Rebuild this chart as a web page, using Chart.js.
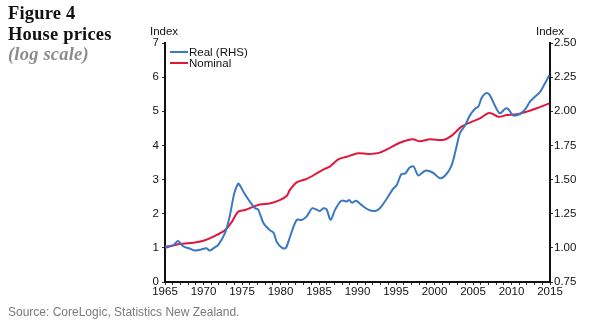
<!DOCTYPE html>
<html>
<head>
<meta charset="utf-8">
<script src="https://cdn.jsdelivr.net/npm/chart.js@4.4.1/dist/chart.umd.min.js"></script>
<style>
  html, body { margin: 0; padding: 0; background: #fff; }
  #wrap { position: relative; width: 600px; height: 323px; overflow: hidden; }
  #chart { position: absolute; left: 0; top: 0; }
  .title { position: absolute; left: 8px; top: 3px; font-family: 'Liberation Serif', 'DejaVu Serif', serif; font-weight: bold; font-size: 18.5px; letter-spacing: 0.2px; line-height: 20.5px; color: #111; }
  .title .sub { color: #8c8c8c; font-style: italic; }
  .source { position: absolute; left: 8px; top: 305px; font-family: 'Liberation Sans', Arial, sans-serif; font-size: 12px; color: #7a7a7a; }
</style>
</head>
<body>
<div id="wrap">
  <canvas id="chart" width="600" height="323"></canvas>
  <div class="title">Figure 4<br>House prices<br><span class="sub">(log scale)</span></div>
  <div class="source">Source: CoreLogic, Statistics New Zealand.</div>
</div>
<script>
// Nominal house price index (left axis)
const nominalYears = [1965, 1966.9, 1968.7, 1970, 1971.3, 1972.8, 1973.7, 1974.5, 1975.4, 1977.3, 1978.6, 1979.9,
    1980.8, 1981.2, 1982.1, 1983.4, 1984.7, 1985.6, 1986.4, 1987.5, 1988.6, 1990.1, 1991.4, 1992.9, 1994.4, 1995.5,
    1997.2, 1998.1, 1999.4, 2001.1, 2002.2, 2003.5, 2004.6, 2005.9, 2006.9, 2007.4, 2008.3, 2009.4, 2010.7, 2012,
    2013.3, 2014.1, 2014.9];
const nominalValues = [1.0, 1.11, 1.15, 1.21, 1.33, 1.52, 1.77, 2.06, 2.11, 2.27, 2.30, 2.40,
    2.52, 2.69, 2.92, 3.02, 3.18, 3.30, 3.38, 3.59, 3.67, 3.77, 3.75, 3.79, 3.95, 4.08,
    4.18, 4.12, 4.18, 4.16, 4.28, 4.55, 4.67, 4.79, 4.94, 4.94, 4.84, 4.89, 4.91, 4.99,
    5.09, 5.16, 5.23];

// Real house price index (right axis)
const realYears = [1965, 1966.1, 1966.7, 1967.4, 1968.2, 1968.9, 1969.8, 1970.4, 1970.8, 1971.5, 1971.9, 1972.8,
    1973.4, 1974.0, 1974.5, 1974.7, 1975.4, 1976.0, 1976.7, 1977.1, 1977.8, 1978.6, 1979.1, 1979.5, 1980.2, 1980.7,
    1981.2, 1982.1, 1982.8, 1983.4, 1984.1, 1984.7, 1985.1, 1985.6, 1986.0, 1986.5, 1987.1, 1987.9, 1988.6, 1988.9,
    1989.3, 1989.8, 1990.5, 1991.4, 1992.3, 1992.9, 1993.8, 1994.6, 1995.1, 1995.7, 1996.2, 1996.8, 1997.3, 1997.9,
    1998.8, 1999.8, 2000.7, 2001.4, 2002.2, 2002.9, 2003.3, 2004.0, 2004.6, 2005.3, 2005.7, 2006.1, 2006.6, 2007.0,
    2007.4, 2007.9, 2008.5, 2009.2, 2009.6, 2010.2, 2011.1, 2011.8, 2012.4, 2013.1, 2013.7, 2014.1, 2014.6, 2014.9];
const realValues = [1.01, 1.02, 1.05, 1.01, 0.995, 0.98, 0.99, 0.997, 0.98, 1.005, 1.02, 1.11,
    1.23, 1.40, 1.47, 1.46, 1.39, 1.34, 1.29, 1.28, 1.18, 1.13, 1.11, 1.045, 1.00, 1.00,
    1.075, 1.205, 1.205, 1.23, 1.29, 1.28, 1.27, 1.29, 1.28, 1.205, 1.28, 1.345, 1.34, 1.35,
    1.33, 1.345, 1.315, 1.28, 1.27, 1.29, 1.36, 1.43, 1.46, 1.54, 1.545, 1.59, 1.595, 1.53,
    1.565, 1.55, 1.51, 1.53, 1.60, 1.75, 1.84, 1.90, 1.97, 2.02, 2.035, 2.095, 2.13, 2.13,
    2.095, 2.035, 1.985, 2.02, 2.015, 1.97, 1.98, 2.015, 2.07, 2.11, 2.14, 2.18, 2.23, 2.265];

const seriesNames = ['Real (RHS)', 'Nominal'];
const seriesColors = ['#3a78c4', '#e0173b'];

const toPoints = (xs, ys) => xs.map((x, i) => ({ x, y: ys[i] }));
const FONT = "'Liberation Sans', Arial, sans-serif";

// legend inside the plot + "Index" labels over each axis
const extrasPlugin = {
    id: 'extras',
    afterDraw(chart) {
        const ctx = chart.ctx;
        const area = chart.chartArea;
        ctx.save();
        ctx.font = `11.5px ${FONT}`;
        ctx.fillStyle = '#111';
        ctx.textBaseline = 'middle';
        ctx.textAlign = 'center';
        ctx.fillText('Index', area.left - 1, 32);
        ctx.fillText('Index', area.right, 32);
        ctx.textAlign = 'left';
        seriesNames.forEach((name, i) => {
            const y = 52 + i * 11;
            ctx.strokeStyle = seriesColors[i];
            ctx.lineWidth = 2;
            ctx.beginPath();
            ctx.moveTo(area.left + 5, y);
            ctx.lineTo(area.left + 23, y);
            ctx.stroke();
            ctx.fillText(name, area.left + 24, y + 0.5);
        });
        ctx.restore();
    }
};

new Chart(document.getElementById('chart').getContext('2d'), {
    type: 'line',
    data: {
        datasets: [{
            label: seriesNames[0],
            data: toPoints(realYears, realValues),
            yAxisID: 'yRight',
            borderColor: seriesColors[0],
            borderWidth: 2,
            pointRadius: 0,
            tension: 0.3
        }, {
            label: seriesNames[1],
            data: toPoints(nominalYears, nominalValues),
            yAxisID: 'yLeft',
            borderColor: seriesColors[1],
            borderWidth: 2,
            pointRadius: 0,
            tension: 0.3
        }]
    },
    options: {
        responsive: false,
        animation: false,
        layout: { padding: { top: 43, left: 0, right: 0, bottom: 0 } },
        plugins: { legend: { display: false }, tooltip: { enabled: false } },
        scales: {
            x: {
                type: 'linear',
                min: 1965,
                max: 2015,
                afterFit: (s) => { s.height = 41; },
                border: { color: '#111', width: 2 },
                grid: { drawOnChartArea: false, tickLength: 3, color: '#333' },
                ticks: {
                    stepSize: 1,
                    autoSkip: false,
                    maxRotation: 0,
                    padding: 0,
                    color: '#111',
                    font: { family: FONT, size: 11.5 },
                    callback: (v) => (v % 5 === 0 ? String(v) : '')
                }
            },
            yLeft: {
                position: 'left',
                min: 0,
                max: 7,
                afterFit: (s) => { s.width = 165; },
                border: { color: '#111', width: 2 },
                grid: { drawOnChartArea: false, tickLength: 3, color: '#333' },
                ticks: { stepSize: 1, padding: 3, color: '#111', font: { family: FONT, size: 11.5 } }
            },
            yRight: {
                position: 'right',
                min: 0.75,
                max: 2.5,
                afterFit: (s) => { s.width = 50; },
                border: { color: '#111', width: 2 },
                grid: { drawOnChartArea: false, tickLength: 3, color: '#333' },
                ticks: {
                    stepSize: 0.25,
                    padding: 1,
                    color: '#111',
                    font: { family: FONT, size: 11.5 },
                    callback: (v) => Number(v).toFixed(2)
                }
            }
        }
    },
    plugins: [extrasPlugin]
});
</script>
</body>
</html>
